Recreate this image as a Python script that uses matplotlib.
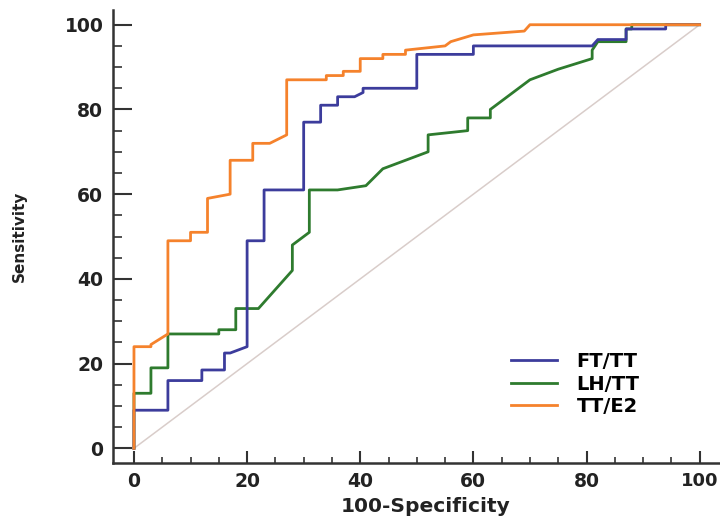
import matplotlib
matplotlib.use("Agg")
import matplotlib.pyplot as plt
from matplotlib.ticker import MultipleLocator

# ROC curves (100-specificity, sensitivity)
ft_tt_x = [0, 0, 6, 6, 12, 12, 16, 16, 17, 20, 20, 23, 23, 30, 30, 33, 33, 36, 36,
           39, 40.5, 40.5, 50, 50, 60, 60, 81, 82, 87, 87, 94, 94, 100]
ft_tt_y = [0, 9, 9, 16, 16, 18.5, 18.5, 22.5, 22.5, 24, 49, 49, 61, 61, 77, 77, 81, 81, 83,
           83, 84, 85, 85, 93, 93, 95, 95, 96.5, 96.5, 99, 99, 100, 100]

lh_tt_x = [0, 0, 3, 3, 6, 6, 15, 15, 18, 18, 22, 28, 28, 31, 31, 36, 41, 44, 52, 52,
           59, 59, 63, 63, 70, 75, 81, 81, 82, 87, 87, 88, 88, 100]
lh_tt_y = [0, 13, 13, 19, 19, 27, 27, 28, 28, 33, 33, 42, 48, 51, 61, 61, 62, 66, 70, 74,
           75, 78, 78, 80, 87, 89.5, 92, 94, 96, 96, 99, 99, 100, 100]

tt_e2_x = [0, 0, 3, 3, 6, 6, 10, 10, 13, 13, 17, 17, 21, 21, 24, 27, 27, 34, 34, 37, 37,
           40, 40, 44, 44, 48, 48, 55, 56, 60, 69, 70, 100]
tt_e2_y = [0, 24, 24, 24.5, 27, 49, 49, 51, 51, 59, 60, 68, 68, 72, 72, 74, 87, 87, 88, 88, 89,
           89, 92, 92, 93, 93, 94, 95, 96, 97.6, 98.5, 100, 100]

ref_x = [0, 100]
ref_y = [0, 100]

fig = plt.figure(figsize=(7.2, 5.21), dpi=100)
ax = fig.add_axes([0.157, 0.111, 0.843, 0.870])

ax.plot(ref_x, ref_y, color="#d9cdca", lw=1.1, zorder=1)
ax.plot(ft_tt_x, ft_tt_y, color="#3c3c9c", lw=2, label="FT/TT", zorder=3)
ax.plot(lh_tt_x, lh_tt_y, color="#2e7b2e", lw=2, label="LH/TT", zorder=2)
ax.plot(tt_e2_x, tt_e2_y, color="#f5822c", lw=2, label="TT/E2", zorder=4)

ax.set_xlim(-3.7, 103.6)
ax.set_ylim(-3.5, 103.5)
ax.set_xticks(range(0, 101, 20))
ax.set_yticks(range(0, 101, 20))
ax.xaxis.set_minor_locator(MultipleLocator(5))
ax.yaxis.set_minor_locator(MultipleLocator(5))

for s in ["top", "right"]:
    ax.spines[s].set_visible(False)
for s in ["left", "bottom"]:
    ax.spines[s].set_linewidth(1.8)
    ax.spines[s].set_color("#333333")

ax.tick_params(axis="y", which="major", direction="in", length=13.5, width=1.5, pad=7, color="#333333")
ax.tick_params(axis="y", which="minor", direction="in", length=6.5, width=1.2, color="#333333")
ax.tick_params(axis="x", which="major", direction="in", length=8.6, width=1.5, pad=6, color="#333333")
ax.tick_params(axis="x", which="minor", direction="in", length=4.3, width=1.2, color="#333333")

for lab in ax.get_xticklabels() + ax.get_yticklabels():
    lab.set_fontsize(13.5)
    lab.set_fontweight("bold")
    lab.set_color("#222222")
ax.get_xticklabels()[-1].set_fontsize(13)

ax.set_xlabel("100-Specificity", fontsize=14.5, fontweight="bold", color="#222222")
ax.xaxis.set_label_coords(0.515, -0.075)
ax.set_ylabel("Sensitivity", fontsize=11, fontweight="bold", color="#222222")
ax.yaxis.set_label_coords(-0.142, 0.5)

ax.legend(loc="upper left", bbox_to_anchor=(0.655, 0.245), frameon=False,
          prop={"weight": "bold", "size": 14}, handlelength=2.4, handletextpad=1.0,
          labelspacing=0.18, borderpad=0, borderaxespad=0)

fig.savefig("out.png", dpi=100)
